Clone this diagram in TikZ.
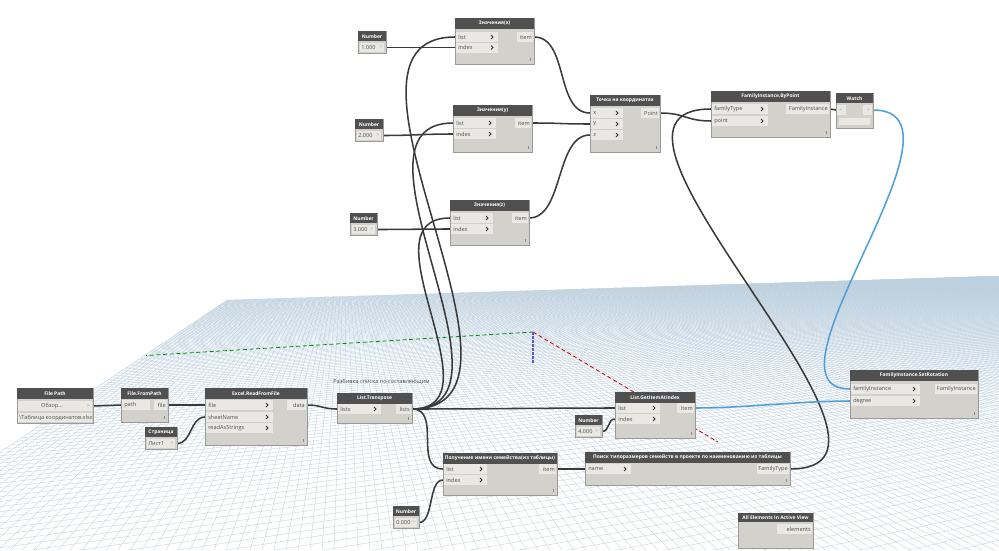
\documentclass[tikz,border=0pt]{standalone}
\usepackage{fontspec}
\setmainfont{Open Sans}
\usetikzlibrary{calc}
\pgfdeclarelayer{bg}
\pgfsetlayers{bg,main}
\definecolor{headc}{HTML}{505050}
\definecolor{bodyc}{HTML}{D3D1CB}
\definecolor{portc}{HTML}{E9E8E4}
\definecolor{edgec}{HTML}{9C9A96}
\definecolor{txtc}{HTML}{505050}
\definecolor{wirec}{HTML}{3A3A3A}
\definecolor{bluew}{HTML}{4FA0D8}
\definecolor{gridc}{HTML}{BDD0DF}
\definecolor{zaxis}{HTML}{5A5AD0}
\tikzset{
  ttl/.style={text=white, font=\fontsize{3.7}{4.5}\selectfont\bfseries, inner sep=0pt},
  lbl/.style={text=txtc, font=\fontsize{4.2}{5}\selectfont, inner sep=0pt},
  chev/.style={draw=black!80, line width=0.7pt},
  wire/.style={draw=wirec, line width=1.15pt},
  bwire/.style={draw=bluew, line width=1.15pt},
  gridl/.style={draw=gridc, line width=0.25pt},
}
\newcommand{\dnode}[6]{%
  \path[fill=bodyc, draw=edgec, line width=0.4pt] (#2,#3) rectangle (#4,#5);
  \path[fill=headc] (#2,#3) rectangle (#4,{#3+10.5});
  \node[ttl] (#1) at ({(#2+#4)/2},{#3+5.5}) {#6};
  \draw[black!45, line width=0.3pt] ({#4-4},{#5-6}) -- ({#4-4},{#5-3});
}
\newcommand{\inp}[5]{%
  \path[fill=portc] ({#2+1},{#3-5}) rectangle (#4,{#3+5});
  \node[lbl, anchor=west] at ({#2+3},#3) {#5};
  \draw[chev] ({#4-7},{#3-2}) -- ({#4-5},#3) -- ({#4-7},{#3+2});
  \coordinate (#1) at (#2,#3);
}
\newcommand{\outp}[5]{%
  \path[fill=portc] (#4,{#3-5}) rectangle ({#2-1},{#3+5});
  \node[lbl, anchor=east] at ({#2-2},#3) {#5};
  \coordinate (#1) at (#2,#3);
}
\newcommand{\numnode}[6]{%
  \path[fill=bodyc, draw=edgec, line width=0.4pt] (#2,#3) rectangle (#4,{#3+22});
  \path[fill=headc] (#2,#3) rectangle (#4,{#3+10});
  \node[ttl] (#1) at ({(#2+#4)/2},{#3+5.3}) {#5};
  \path[fill=portc] ({#2+2},{#3+12}) rectangle ({#4-2},{#3+21});
  \node[lbl, anchor=west] at ({#2+3},{#3+16.5}) {#6};
  \node[lbl, text=black!45] at ({#4-5},{#3+16.3}) {\fontsize{3.5}{4}\selectfont >};
  \coordinate (#1-out) at (#4,{#3+16.5});
}
\begin{document}
\begin{tikzpicture}[x=0.75pt,y=-0.75pt]
\useasboundingbox (0,0) rectangle (999,550);
\begin{pgfonlayer}{bg}
\fill[white] (0,0) rectangle (999,550);
\begin{scope}
\clip (227,300) -- (1000,276) -- (1000,550) -- (0,550) -- (0,452) -- cycle;
\foreach \j in {0,...,400} {
  \draw[gridl] (345,221) -- ({-146+12*\j},550);
}
\foreach \i in {-91,...,72} {
  \pgfmathsetmacro\m{1/(1+0.0082*\i)}
  \pgfmathsetmacro\rx{345+188*\m}
  \pgfmathsetmacro\ry{221+111*\m}
  \pgfmathsetmacro\s{(\ry-221)/(2350-\rx)}
  \pgfmathsetmacro\ya{221+\s*2350}
  \pgfmathsetmacro\yb{221+\s*1350}
  \draw[gridl] (0,\ya) -- (1000,\yb);
}
\end{scope}
\coordinate (orig) at (533,332);
\coordinate (yend) at (146,355.5);
\coordinate (xend) at (718,442);
\coordinate (zend) at (533,364);
\draw[green!55!black, line width=0.6pt, dash pattern=on 3pt off 2pt] (orig) -- (yend);
\draw[red!80!black, line width=0.6pt, dash pattern=on 3pt off 2pt] (orig) -- (xend);
\draw[zaxis, line width=0.8pt, dash pattern=on 2pt off 1pt] (orig) -- (zend);
\end{pgfonlayer}

% Number nodes
\numnode{n1}{358}{31}{386}{Number}{1.000}
\numnode{n2}{355}{119}{383}{Number}{2.000}
\numnode{n3}{350}{213}{377}{Number}{3.000}
\numnode{n4}{575}{415}{602}{Number}{4.000}
\numnode{n0}{393}{506}{419}{Number}{0.000}
\numnode{pg}{145}{427}{177}{Страница}{Лист1}

% Значения(x)
\dnode{vx}{455}{18}{534}{64}{Значения(x)}
\inp{vxl}{455}{37}{498}{list}
\inp{vxi}{455}{47.5}{498}{index}
\outp{vxo}{534}{37}{517}{item}
% Значения(y)
\dnode{vy}{453}{105}{532}{152}{Значения(y)}
\inp{vyl}{453}{123}{496}{list}
\inp{vyi}{453}{134}{496}{index}
\outp{vyo}{532}{123}{515}{item}
% Значения(z)
\dnode{vz}{450}{200}{529}{245}{Значения(z)}
\inp{vzl}{450}{218}{493}{list}
\inp{vzi}{450}{229}{493}{index}
\outp{vzo}{529}{218}{512}{item}
% Точка на координатах
\dnode{pt}{590}{95}{660}{152}{Точка на координатах}
\inp{ptx}{590}{113}{623}{x}
\inp{pty}{590}{124}{623}{y}
\inp{ptz}{590}{135}{623}{z}
\outp{ptout}{660}{113}{641}{Point}
% FamilyInstance.ByPoint
\dnode{bp}{711}{91}{830}{137}{FamilyInstance.ByPoint}
\inp{bpft}{711}{109}{768}{familyType}
\inp{bppt}{711}{121}{768}{point}
\outp{bpout}{830}{109}{786}{FamilyInstance}
% Watch
\path[fill=bodyc, draw=edgec, line width=0.4pt] (836,93) rectangle (873,128);
\path[fill=headc] (836,93) rectangle (873,103);
\node[ttl] (wch) at (854.5,98.3) {Watch};
\path[fill=portc] (837,105) rectangle (872,115);
\path[fill=bodyc] (846,105) rectangle (863,115);
\node[lbl, text=black!50] at (841,110) {\fontsize{3.5}{4}\selectfont >};
\node[lbl, text=black!50] at (868.5,110) {\fontsize{3.5}{4}\selectfont >};
\path[fill=portc] (839,118) rectangle (870,125);
\coordinate (wchin) at (836,110);
\coordinate (wchout) at (873,110);
% File Path
\path[fill=bodyc, draw=edgec, line width=0.4pt] (17,388) rectangle (93,423);
\path[fill=headc] (17,388) rectangle (93,399);
\node[ttl] (fp) at (55,393.8) {File Path};
\path[fill=portc] (18,401) rectangle (92,411);
\node[lbl] at (52,406) {Обзор...};
\node[lbl, text=black!50] at (88.5,406) {\fontsize{3.5}{4}\selectfont >};
\path[fill=portc] (18,413) rectangle (92,422);
\node[lbl, anchor=west] at (19,418) {\textbackslash Таблица координатов.xlsx};
\coordinate (fpout) at (93,406);
% File.FromPath
\dnode{ffp}{121}{388}{168}{422}{File.FromPath}
\path[fill=portc] (122,400) rectangle (150,410);
\node[lbl, anchor=west] at (124,405) {path};
\coordinate (ffpin) at (121,405);
\outp{ffpout}{168}{405}{154}{file}
% Excel.ReadFromFile
\dnode{ex}{205}{388}{307}{445}{Excel.ReadFromFile}
\inp{exfile}{205}{405}{273}{file}
\inp{exsheet}{205}{417}{273}{sheetName}
\inp{exread}{205}{428}{273}{readAsStrings}
\outp{exdata}{307}{405}{287}{data}
% List.Transpose
\node[lbl, anchor=west, text=black!70] (note) at (333,382) {Разбивка списка по составляющим};
\dnode{tr}{337}{393}{412}{423}{List.Transpose}
\inp{trin}{337}{409}{381}{lists}
\outp{trout}{412}{409}{396}{lists}
% List.GetItemAtIndex
\dnode{gi}{615}{392}{695}{438}{List.GetItemAtIndex}
\inp{gil}{615}{408}{660}{list}
\inp{gii}{615}{419}{660}{index}
\outp{gio}{695}{408}{677}{item}
% FamilyInstance.SetRotation
\dnode{sr}{850}{370}{978}{418}{FamilyInstance.SetRotation}
\inp{srfi}{850}{389}{920}{familyInstance}
\inp{srdeg}{850}{401}{920}{degree}
\outp{srout}{978}{389}{935}{FamilyInstance}
% Получение имени семейства
\dnode{pl}{443}{453}{557}{495}{Получение имени семейства(из таблицы)}
\inp{pll}{443}{469}{487}{list}
\inp{pli}{443}{480}{487}{index}
\outp{plo}{557}{469}{539}{item}
% Поиск типоразмеров
\dnode{ps}{585}{452}{790}{485}{Поиск типоразмеров семейств в проекте по наименованию из таблицы}
\inp{psn}{585}{469}{631}{name}
\outp{psout}{790}{469}{757}{FamilyType}
% All Elements In Active View
\path[fill=bodyc, draw=edgec, line width=0.4pt] (738,513) rectangle (813,548);
\path[fill=headc] (738,513) rectangle (813,521.5);
\node[ttl] (ae) at (775.5,517.3) {All Elements In Active View};
\outp{aeout}{813}{529}{777}{elements}

% wires
\begin{pgfonlayer}{bg}
\draw[wire] (n1-out) .. controls +(30,0) and +(-30,0) .. (vxi);
\draw[wire] (n2-out) .. controls +(30,0) and +(-30,0) .. (vyi);
\draw[wire] (n3-out) .. controls +(30,0) and +(-30,0) .. (vzi);
\draw[wire] (trout) .. controls +(150,0) and +(-150,0) .. (vxl);
\draw[wire] (trout) .. controls +(120,0) and +(-120,0) .. (vyl);
\draw[wire] (trout) .. controls +(90,0) and +(-90,0) .. (vzl);
\draw[wire] (trout) .. controls +(30,0) and +(-30,0) .. (pll);
\draw[wire] (trout) .. controls +(60,0) and +(-60,0) .. (gil);
\draw[wire] (n4-out) .. controls +(8,0) and +(-8,0) .. (gii);
\draw[wire] (n0-out) .. controls +(15,0) and +(-15,0) .. (pli);
\draw[wire] (plo) -- (psn);
\draw[wire] (psout) .. controls +(160,0) and +(-160,0) .. (bpft);
\draw[wire] (vxo) .. controls +(35,0) and +(-35,0) .. (ptx);
\draw[wire] (vyo) .. controls +(30,0) and +(-30,0) .. (pty);
\draw[wire] (vzo) .. controls +(35,0) and +(-35,0) .. (ptz);
\draw[wire] (ptout) .. controls +(25,0) and +(-25,0) .. (bppt);
\draw[wire] (bpout) -- (wchin);
\draw[bwire] (wchout) .. controls +(110,0) and +(-100,0) .. (srfi);
\draw[bwire] (gio) .. controls +(50,0) and +(-50,0) .. (srdeg);
\draw[wire] (fpout) -- (ffpin);
\draw[wire] (ffpout) -- (exfile);
\draw[wire] (pg-out) .. controls +(15,0) and +(-15,0) .. (exsheet);
\draw[wire] (exdata) .. controls +(15,0) and +(-15,0) .. (trin);
\end{pgfonlayer}
\end{tikzpicture}
\end{document}
